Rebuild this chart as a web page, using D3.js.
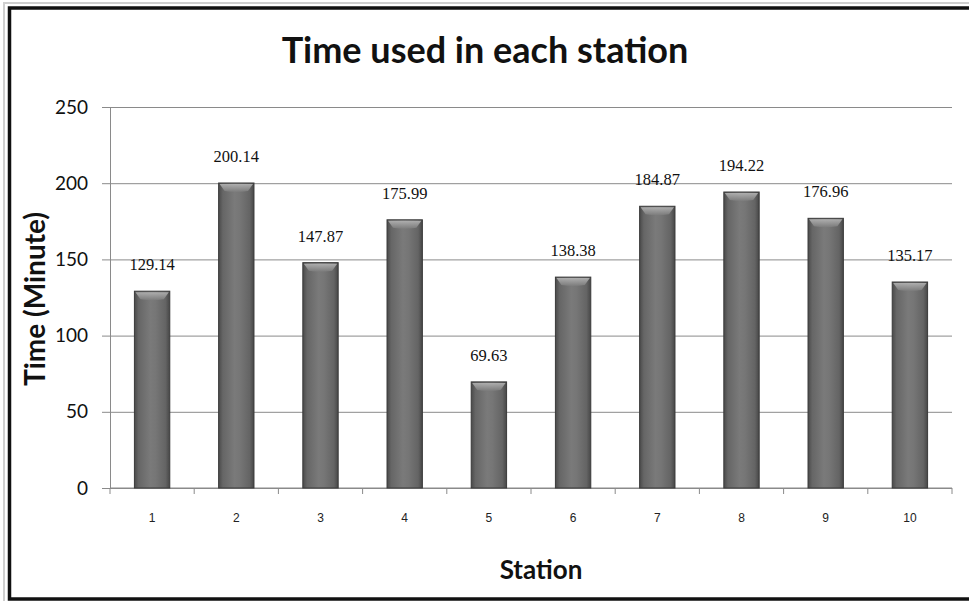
<!DOCTYPE html>
<html>
<head>
<meta charset="utf-8">
<script src="https://cdn.jsdelivr.net/npm/d3@7/dist/d3.min.js"></script>
<style>
  body { margin: 0; background: #fff; }
  svg { display: block; }
</style>
</head>
<body>
<div id="chart"></div>
<script>
// data
const stations = ["1", "2", "3", "4", "5", "6", "7", "8", "9", "10"];
const times = [129.14, 200.14, 147.87, 175.99, 69.63, 138.38, 184.87, 194.22, 176.96, 135.17];
const yTicks = [0, 50, 100, 150, 200, 250];

const W = 969, H = 601;
const pLeft = 110, pRight = 952, pTop = 107, pBottom = 488;

const svg = d3.select("#chart").append("svg")
  .attr("width", W).attr("height", H);

// bar shading
const defs = svg.append("defs");
const g1 = defs.append("linearGradient").attr("id", "barfill")
  .attr("x1", "0%").attr("x2", "100%").attr("y1", "0%").attr("y2", "0%");
[[0, "#4a4a4a"], [0.12, "#666"], [0.45, "#7a7a7a"], [0.6, "#767676"], [0.88, "#646464"], [1, "#474747"]]
  .forEach(s => g1.append("stop").attr("offset", s[0]).attr("stop-color", s[1]));
const g2 = defs.append("linearGradient").attr("id", "bartop")
  .attr("x1", "0%").attr("x2", "0%").attr("y1", "0%").attr("y2", "100%");
[[0, "#b8b8b8"], [0.5, "#9a9a9a"], [1, "#7c7c7c"]]
  .forEach(s => g2.append("stop").attr("offset", s[0]).attr("stop-color", s[1]));

// frame (right edge falls outside the picture)
svg.append("rect").attr("x", 4).attr("y", 3).attr("width", W + 20).attr("height", H)
  .attr("fill", "none").attr("stroke", "#cfcfcf").attr("stroke-width", 2);
svg.append("rect").attr("x", 9.5).attr("y", 8).attr("width", W + 20).attr("height", 591)
  .attr("fill", "#fff").attr("stroke", "#111").attr("stroke-width", 3.5);

const x = d3.scaleBand().domain(stations).range([pLeft, pRight])
  .paddingInner(0.58).paddingOuter(0.29);
const y = d3.scaleLinear().domain([0, 250]).range([pBottom, pTop]);

// y axis with gridlines
const ya = svg.append("g").attr("transform", `translate(${pLeft},0)`)
  .call(d3.axisLeft(y).tickValues(yTicks).tickSizeInner(-(pRight - pLeft)).tickSizeOuter(0).tickPadding(22));
ya.select(".domain").attr("stroke", "#8a8a8a");
ya.selectAll(".tick line").attr("x1", -8).attr("stroke", "#8a8a8a");
ya.selectAll(".tick text")
  .attr("font-family", "Lato, 'Open Sans', sans-serif")
  .attr("font-size", 19).attr("fill", "#111");

// x axis
const step = x.step();
const xa = svg.append("g");
xa.append("line").attr("x1", pLeft).attr("x2", pRight).attr("y1", pBottom).attr("y2", pBottom)
  .attr("stroke", "#8a8a8a");
xa.selectAll("line.tk").data(d3.range(stations.length + 1)).enter().append("line")
  .attr("class", "tk")
  .attr("x1", i => pLeft + i * step).attr("x2", i => pLeft + i * step)
  .attr("y1", pBottom).attr("y2", pBottom + 6).attr("stroke", "#8a8a8a");
xa.selectAll("text").data(stations).enter().append("text")
  .attr("x", d => x(d) + x.bandwidth() / 2).attr("y", pBottom + 34)
  .attr("text-anchor", "middle")
  .attr("font-family", "'Liberation Sans', Arial, sans-serif")
  .attr("font-size", 12).attr("fill", "#222")
  .text(d => d);

// bars
const bars = svg.append("g").selectAll("g").data(stations).enter().append("g");
bars.append("rect")
  .attr("x", d => x(d)).attr("width", x.bandwidth())
  .attr("y", (d, i) => y(times[i])).attr("height", (d, i) => y(0) - y(times[i]))
  .attr("fill", "url(#barfill)").attr("stroke", "#3a3a3a").attr("stroke-width", 1);
bars.append("path")
  .attr("d", (d, i) => {
    const x0 = x(d) + 1, x1 = x(d) + x.bandwidth() - 1, t = y(times[i]) + 1;
    return `M${x0},${t}L${x1},${t}L${x1 - 5},${t + 7}Q${(x0 + x1) / 2},${t + 9} ${x0 + 5},${t + 7}Z`;
  })
  .attr("fill", "url(#bartop)").attr("opacity", 0.85);

// value labels
svg.append("g").selectAll("text").data(stations).enter().append("text")
  .attr("x", d => x(d) + x.bandwidth() / 2)
  .attr("y", (d, i) => y(times[i]) - 21)
  .attr("text-anchor", "middle")
  .attr("font-family", "'Liberation Serif', 'Times New Roman', serif")
  .attr("font-size", 16.5).attr("fill", "#111")
  .text((d, i) => times[i].toFixed(2));

// titles
const bold = "Lato, 'Open Sans', sans-serif";
svg.append("text").attr("x", 485).attr("y", 63).attr("text-anchor", "middle")
  .attr("font-family", bold).attr("font-weight", "bold").attr("font-size", 36)
  .attr("fill", "#111").text("Time used in each station");
svg.append("text").attr("x", 541).attr("y", 579).attr("text-anchor", "middle")
  .attr("font-family", bold).attr("font-weight", "bold").attr("font-size", 26)
  .attr("fill", "#111").text("Station");
svg.append("text").attr("transform", "translate(45,299) rotate(-90)")
  .attr("text-anchor", "middle")
  .attr("font-family", bold).attr("font-weight", "bold").attr("font-size", 28)
  .attr("fill", "#111").text("Time (Minute)");
</script>
</body>
</html>
